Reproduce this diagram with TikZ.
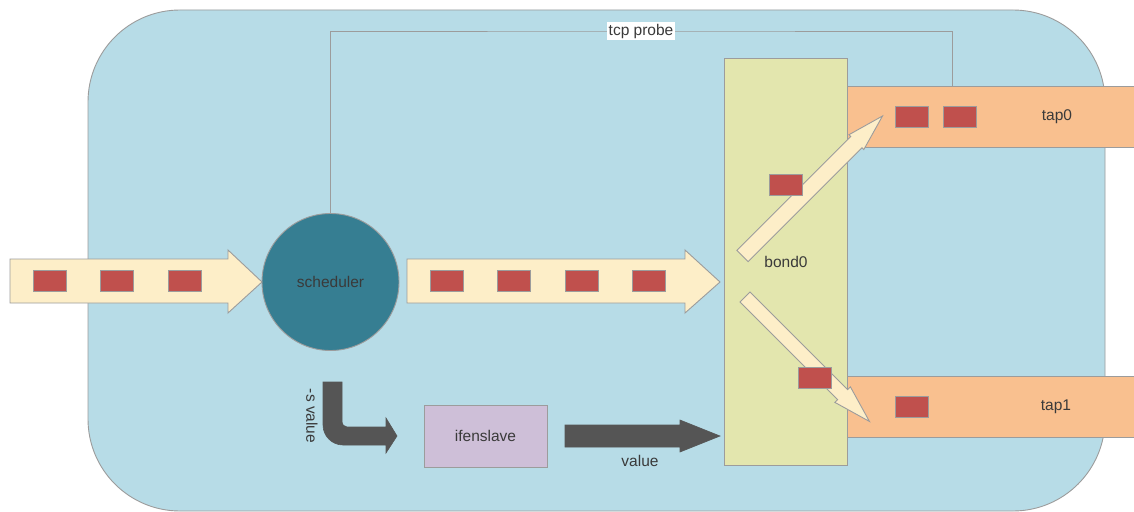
\documentclass[tikz,border=0pt]{standalone}
\usepackage{fontspec}
\setmainfont{Liberation Sans}
\definecolor{bgblue}{HTML}{B7DCE7}
\definecolor{bordergray}{HTML}{9C9C9C}
\definecolor{flowcream}{HTML}{FDEEC8}
\definecolor{pktred}{HTML}{C0504D}
\definecolor{schedteal}{HTML}{367E92}
\definecolor{bondgreen}{HTML}{E3E6AE}
\definecolor{taporange}{HTML}{F9C08F}
\definecolor{ifenlilac}{HTML}{CEBFD8}
\definecolor{darkflow}{HTML}{555555}
\definecolor{txtgray}{HTML}{3A3A3A}
\begin{document}
\begin{tikzpicture}[x=1pt,y=-1pt,
  edge/.style={draw=bordergray,line width=0.9pt},
  pkt/.style={draw=bordergray,fill=pktred,line width=0.9pt,
    minimum width=33pt,minimum height=21pt,inner sep=0pt},
  lbl/.style={text=txtgray,font=\fontsize{15.5}{18}\selectfont,inner sep=1pt},
  flow/.style={draw=bordergray,fill=flowcream,line width=0.9pt},
  dflow/.style={draw=darkflow,fill=darkflow,line width=0.6pt},
  box/.style={edge,rectangle,inner sep=0pt},
]
\useasboundingbox (0,0) rectangle (1134,511);
\fill[white] (0,0) rectangle (1134,511);

% host area
\draw[edge,fill=bgblue,rounded corners=92pt] (88,10) rectangle (1105,511);

% scheduler, bond and tap devices
\node[box,circle,fill=schedteal,minimum size=137pt] (sched) at (330.5,282) {};
\node[box,fill=bondgreen,minimum width=123pt,minimum height=407pt] (bond) at (785.5,261.5) {};
\node[box,fill=taporange,minimum width=293pt,minimum height=61pt] (tapA) at (993.5,116.5) {};
\node[box,fill=taporange,minimum width=293pt,minimum height=61pt] (tapB) at (993.5,406.5) {};
\node[box,fill=ifenlilac,minimum width=123pt,minimum height=62pt] (ifen) at (485.5,436) {};

% tcp probe path from the scheduler to tap0
\coordinate (probetop) at (641,31);
\coordinate (probeend) at (952,86);
\draw[edge] (sched.north) |- (probetop) -| (probeend);
\node[lbl,fill=white,inner sep=1.5pt] (probelbl) at (probetop) {tcp probe};

% incoming traffic
\draw[flow] (10,259) -- (228,259) -- (228,250) -- (262,282) -- (228,313)
  -- (228,303) -- (10,303) -- cycle;
% traffic from the scheduler to bond0
\draw[flow] (407,259) -- (685,259) -- (685,250) -- (720,282) -- (685,313)
  -- (685,303) -- (407,303) -- cycle;

% bond0 to tap0
\begin{scope}[shift={(742.5,256)},rotate=45]
  \draw[flow] (0,-8) -- (161,-8) -- (161,-10.5) -- (198,0) -- (161,10.5)
    -- (161,8) -- (0,8) -- cycle;
\end{scope}
% bond0 to tap1
\begin{scope}[shift={(745,297)},rotate=-45]
  \draw[flow] (0,-7) -- (138,-7) -- (138,-11) -- (176,0) -- (138,11)
    -- (138,7) -- (0,7) -- cycle;
\end{scope}

% packets
\foreach \px/\py in {50/281,117/281,185/281,447/281,514/281,582/281,649/281,
  785.5/184.5,911.5/116.5,960/116.5,815/377.5,911.5/406.5}
  \node[pkt] at (\px,\py) {};

% scheduler hands the -s value to ifenslave
\draw[dflow] (323,382) -- (342,382) -- (342,421)
  .. controls (342,424.5) and (344,427) .. (347,427)
  -- (386,427) -- (386,418) -- (397,436) -- (386,453) -- (386,445) -- (343,445)
  .. controls (332,445) and (323,436) .. (323,425) -- cycle;
% ifenslave passes the value to bond0
\draw[dflow] (565,425) -- (680,425) -- (680,420) -- (720,436) -- (680,452)
  -- (680,447) -- (565,447) -- cycle;

% labels
\node[lbl] (schedlbl) at (sched.center) {scheduler};
\node[lbl] (bondlbl) at (786,262) {bond0};
\node[lbl] (tapAlbl) at (1057,117) {tap0};
\node[lbl] (tapBlbl) at (1056,407) {tap1};
\node[lbl] (ifenlbl) at (ifen.center) {ifenslave};
\node[lbl] (vallbl) at (640,461) {value};
\node[lbl,rotate=-90] (svallbl) at (312,416) {-s value};
\end{tikzpicture}
\end{document}
